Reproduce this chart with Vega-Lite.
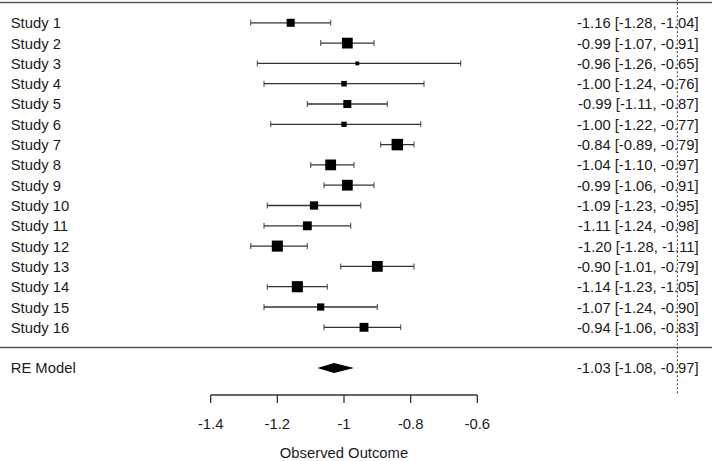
{
  "$schema": "https://vega.github.io/schema/vega-lite/v6.json",
  "width": 712,
  "height": 461,
  "autosize": {"type": "none"},
  "padding": 0,
  "background": "white",
  "config": {"view": {"stroke": null}, "font": "Liberation Sans"},
  "datasets": {
    "ticks": [
      {"tick": -1.4, "text": "-1.4"},
      {"tick": -1.2, "text": "-1.2"},
      {"tick": -1.0, "text": "-1"},
      {"tick": -0.8, "text": "-0.8"},
      {"tick": -0.6, "text": "-0.6"}
    ]
  },
  "data": {
    "values": [
      {"kind": "study", "study": "Study 1", "row": 16, "est": -1.16, "lb": -1.28, "ub": -1.04, "weight": 5.8, "label": "-1.16 [-1.28, -1.04]"},
      {"kind": "study", "study": "Study 2", "row": 15, "est": -0.99, "lb": -1.07, "ub": -0.91, "weight": 7.8, "label": "-0.99 [-1.07, -0.91]"},
      {"kind": "study", "study": "Study 3", "row": 14, "est": -0.96, "lb": -1.26, "ub": -0.65, "weight": 2.8, "label": "-0.96 [-1.26, -0.65]"},
      {"kind": "study", "study": "Study 4", "row": 13, "est": -1.00, "lb": -1.24, "ub": -0.76, "weight": 4.0, "label": "-1.00 [-1.24, -0.76]"},
      {"kind": "study", "study": "Study 5", "row": 12, "est": -0.99, "lb": -1.11, "ub": -0.87, "weight": 5.8, "label": "-0.99 [-1.11, -0.87]"},
      {"kind": "study", "study": "Study 6", "row": 11, "est": -1.00, "lb": -1.22, "ub": -0.77, "weight": 3.8, "label": "-1.00 [-1.22, -0.77]"},
      {"kind": "study", "study": "Study 7", "row": 10, "est": -0.84, "lb": -0.89, "ub": -0.79, "weight": 8.3, "label": "-0.84 [-0.89, -0.79]"},
      {"kind": "study", "study": "Study 8", "row": 9, "est": -1.04, "lb": -1.10, "ub": -0.97, "weight": 7.8, "label": "-1.04 [-1.10, -0.97]"},
      {"kind": "study", "study": "Study 9", "row": 8, "est": -0.99, "lb": -1.06, "ub": -0.91, "weight": 7.8, "label": "-0.99 [-1.06, -0.91]"},
      {"kind": "study", "study": "Study 10", "row": 7, "est": -1.09, "lb": -1.23, "ub": -0.95, "weight": 6.0, "label": "-1.09 [-1.23, -0.95]"},
      {"kind": "study", "study": "Study 11", "row": 6, "est": -1.11, "lb": -1.24, "ub": -0.98, "weight": 6.4, "label": "-1.11 [-1.24, -0.98]"},
      {"kind": "study", "study": "Study 12", "row": 5, "est": -1.20, "lb": -1.28, "ub": -1.11, "weight": 8.0, "label": "-1.20 [-1.28, -1.11]"},
      {"kind": "study", "study": "Study 13", "row": 4, "est": -0.90, "lb": -1.01, "ub": -0.79, "weight": 7.8, "label": "-0.90 [-1.01, -0.79]"},
      {"kind": "study", "study": "Study 14", "row": 3, "est": -1.14, "lb": -1.23, "ub": -1.05, "weight": 8.0, "label": "-1.14 [-1.23, -1.05]"},
      {"kind": "study", "study": "Study 15", "row": 2, "est": -1.07, "lb": -1.24, "ub": -0.90, "weight": 5.2, "label": "-1.07 [-1.24, -0.90]"},
      {"kind": "study", "study": "Study 16", "row": 1, "est": -0.94, "lb": -1.06, "ub": -0.83, "weight": 6.4, "label": "-0.94 [-1.06, -0.83]"},
      {"kind": "summary", "study": "RE Model", "row": -1, "est": -1.03, "lb": -1.08, "ub": -0.97, "label": "-1.03 [-1.08, -0.97]"}
    ]
  },
  "layer": [
    {
      "data": {"values": [{}]},
      "mark": {"type": "rule", "color": "#555555", "strokeWidth": 1.5},
      "encoding": {
        "y": {"datum": 17, "type": "quantitative", "scale": {"domain": [-5.586, 17.123], "nice": false, "zero": false}, "axis": null}
      }
    },
    {
      "data": {"values": [{}]},
      "mark": {"type": "rule", "color": "#555555", "strokeWidth": 1.5},
      "encoding": {
        "y": {"datum": 0, "type": "quantitative", "scale": {"domain": [-5.586, 17.123], "nice": false, "zero": false}, "axis": null}
      }
    },
    {
      "data": {"values": [{}]},
      "mark": {"type": "rule", "color": "#333333", "strokeWidth": 1.3},
      "encoding": {
        "x": {"datum": -1.4, "type": "quantitative", "scale": {"domain": [-2.0321, 0.1041], "nice": false, "zero": false}, "axis": null},
        "x2": {"datum": -0.6},
        "y": {"datum": -2.335, "type": "quantitative", "scale": {"domain": [-5.586, 17.123], "nice": false, "zero": false}, "axis": null}
      }
    },
    {
      "data": {"name": "ticks"},
      "mark": {"type": "rule", "color": "#333333", "strokeWidth": 1.3},
      "encoding": {
        "x": {"field": "tick", "type": "quantitative", "scale": {"domain": [-2.0321, 0.1041], "nice": false, "zero": false}, "axis": null},
        "y": {"datum": -2.335, "type": "quantitative", "scale": {"domain": [-5.586, 17.123], "nice": false, "zero": false}, "axis": null},
        "y2": {"datum": -2.73}
      }
    },
    {
      "data": {"name": "ticks"},
      "mark": {"type": "text", "align": "center", "baseline": "middle", "dy": 1, "font": "Liberation Sans", "fontSize": 14.8, "color": "#1a1a1a"},
      "encoding": {
        "x": {"field": "tick", "type": "quantitative", "scale": {"domain": [-2.0321, 0.1041], "nice": false, "zero": false}, "axis": null},
        "y": {"datum": -3.764, "type": "quantitative", "scale": {"domain": [-5.586, 17.123], "nice": false, "zero": false}, "axis": null},
        "text": {"field": "text"}
      }
    },
    {
      "data": {"values": [{"title": "Observed Outcome"}]},
      "mark": {"type": "text", "align": "center", "baseline": "middle", "dy": 1, "font": "Liberation Sans", "fontSize": 14.8, "color": "#1a1a1a"},
      "encoding": {
        "x": {"datum": -1.0, "type": "quantitative", "scale": {"domain": [-2.0321, 0.1041], "nice": false, "zero": false}, "axis": null},
        "y": {"datum": -5.18, "type": "quantitative", "scale": {"domain": [-5.586, 17.123], "nice": false, "zero": false}, "axis": null},
        "text": {"field": "title"}
      }
    },
    {
      "transform": [{"filter": "datum.kind === 'study'"}],
      "mark": {"type": "rule", "color": "#333333", "strokeWidth": 1.3},
      "encoding": {
        "x": {"field": "lb", "type": "quantitative", "scale": {"domain": [-2.0321, 0.1041], "nice": false, "zero": false}, "axis": null},
        "x2": {"field": "ub"},
        "y": {"field": "row", "type": "quantitative", "scale": {"domain": [-5.586, 17.123], "nice": false, "zero": false}, "axis": null}
      }
    },
    {
      "transform": [{"filter": "datum.kind === 'study'"}],
      "mark": {"type": "tick", "orient": "vertical", "color": "#333333", "size": 6, "thickness": 1.3},
      "encoding": {
        "x": {"field": "lb", "type": "quantitative", "scale": {"domain": [-2.0321, 0.1041], "nice": false, "zero": false}, "axis": null},
        "y": {"field": "row", "type": "quantitative", "scale": {"domain": [-5.586, 17.123], "nice": false, "zero": false}, "axis": null}
      }
    },
    {
      "transform": [{"filter": "datum.kind === 'study'"}],
      "mark": {"type": "tick", "orient": "vertical", "color": "#333333", "size": 6, "thickness": 1.3},
      "encoding": {
        "x": {"field": "ub", "type": "quantitative", "scale": {"domain": [-2.0321, 0.1041], "nice": false, "zero": false}, "axis": null},
        "y": {"field": "row", "type": "quantitative", "scale": {"domain": [-5.586, 17.123], "nice": false, "zero": false}, "axis": null}
      }
    },
    {
      "transform": [{"filter": "datum.kind === 'study'"}],
      "mark": {"type": "point", "shape": "square", "filled": true, "color": "#000000", "opacity": 1, "strokeWidth": 0},
      "encoding": {
        "x": {"field": "est", "type": "quantitative", "scale": {"domain": [-2.0321, 0.1041], "nice": false, "zero": false}, "axis": null},
        "y": {"field": "row", "type": "quantitative", "scale": {"domain": [-5.586, 17.123], "nice": false, "zero": false}, "axis": null},
        "size": {"field": "weight", "type": "quantitative", "scale": {"type": "pow", "exponent": 2, "domain": [0, 8.3], "range": [0, 132]}, "legend": null}
      }
    },
    {
      "transform": [{"filter": "datum.kind === 'summary'"}],
      "mark": {"type": "point", "shape": "M-0.835,0L0,-0.25L1,0L0,0.25Z", "size": 1600, "filled": true, "color": "#000000", "opacity": 1, "strokeWidth": 0},
      "encoding": {
        "x": {"field": "est", "type": "quantitative", "scale": {"domain": [-2.0321, 0.1041], "nice": false, "zero": false}, "axis": null},
        "y": {"field": "row", "type": "quantitative", "scale": {"domain": [-5.586, 17.123], "nice": false, "zero": false}, "axis": null}
      }
    },
    {
      "mark": {"type": "text", "align": "left", "baseline": "middle", "dy": 1.5, "font": "Liberation Sans", "fontSize": 14.8, "color": "#1a1a1a"},
      "encoding": {
        "x": {"datum": -2.0, "type": "quantitative", "scale": {"domain": [-2.0321, 0.1041], "nice": false, "zero": false}, "axis": null},
        "y": {"field": "row", "type": "quantitative", "scale": {"domain": [-5.586, 17.123], "nice": false, "zero": false}, "axis": null},
        "text": {"field": "study"}
      }
    },
    {
      "mark": {"type": "text", "align": "right", "baseline": "middle", "dy": 1.5, "font": "Liberation Sans", "fontSize": 14.8, "color": "#1a1a1a"},
      "encoding": {
        "x": {"datum": 0.064, "type": "quantitative", "scale": {"domain": [-2.0321, 0.1041], "nice": false, "zero": false}, "axis": null},
        "y": {"field": "row", "type": "quantitative", "scale": {"domain": [-5.586, 17.123], "nice": false, "zero": false}, "axis": null},
        "text": {"field": "label"}
      }
    },
    {
      "data": {"values": [{}]},
      "mark": {"type": "rule", "color": "#333333", "strokeWidth": 1, "strokeDash": [2, 2]},
      "encoding": {
        "x": {"datum": 0, "type": "quantitative", "scale": {"domain": [-2.0321, 0.1041], "nice": false, "zero": false}, "axis": null},
        "y": {"datum": -2.25, "type": "quantitative", "scale": {"domain": [-5.586, 17.123], "nice": false, "zero": false}, "axis": null},
        "y2": {"datum": 17.123}
      }
    }
  ]
}
